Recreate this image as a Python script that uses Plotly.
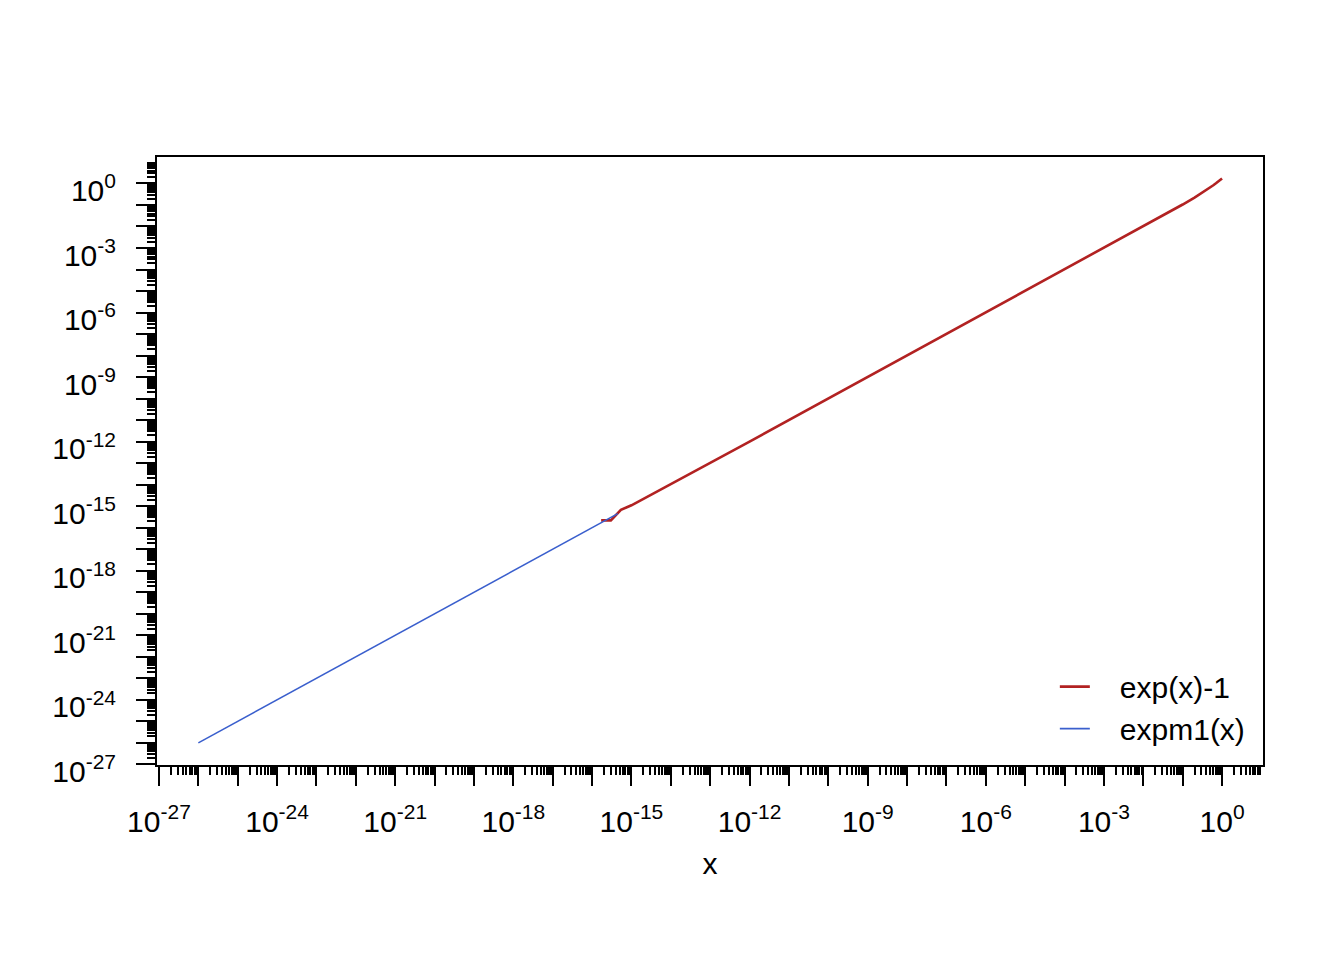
import plotly.graph_objects as go

# expm1(x) series (blue)
expm1_x = [1e-26, 1e-24, 1e-21, 1e-18, 4.5e-16]
expm1_y = [1e-26, 1e-24, 1e-21, 1e-18, 4.5e-16]

# exp(x)-1 series (red)
expx_x = [1.7e-16, 3.0e-16, 5.4e-16, 1e-15, 1e-12, 1e-9, 1e-6, 1e-3, 0.01, 0.02, 0.05,
          0.1, 0.2, 0.3, 0.4, 0.5, 0.6, 0.7, 0.8, 0.9, 1.0]
expx_y = [2.2e-16, 2.2e-16, 6.7e-16, 1.1e-15, 1e-12, 1e-9, 1e-6, 1.0005e-3, 0.01005, 0.0202, 0.0513,
          0.1052, 0.2214, 0.3499, 0.4918, 0.6487, 0.8221, 1.0138, 1.2255, 1.4596, 1.7183]

series_names = ["exp(x)-1", "expm1(x)"]

# axis tick definitions
decades = list(range(-27, 1))
major_vals = [10.0 ** k for k in decades]
major_text = [f"10<sup>{k}</sup>" if k % 3 == 0 else "" for k in decades]
minor_vals = [m * 10.0 ** k for k in decades for m in range(2, 10)]

FONT = "Liberation Sans, Arial, sans-serif"
PAD = "\u00a0\u00a0\u00a0"

fig = go.Figure()
fig.add_trace(go.Scatter(x=expx_x, y=expx_y, mode="lines", name=PAD + series_names[0],
                         line=dict(color="#B22222", width=2.6)))
fig.add_trace(go.Scatter(x=expm1_x, y=expm1_y, mode="lines", name=PAD + series_names[1],
                         line=dict(color="#3A5FCD", width=1.6)))

axis_common = dict(
    type="log", showgrid=False, zeroline=False,
    showline=True, linecolor="black", linewidth=2, mirror=True,
    ticks="outside", ticklen=19, tickwidth=2, tickcolor="black",
    tickmode="array", tickvals=major_vals, ticktext=major_text,
    tickfont=dict(family=FONT, size=30, color="black"),
    minor=dict(tickmode="array", tickvals=minor_vals, ticks="outside",
               ticklen=8, tickwidth=1.5, tickcolor="black", showgrid=False),
)

fig.update_layout(
    width=1344, height=960,
    paper_bgcolor="white", plot_bgcolor="white",
    margin=dict(l=149, r=89, t=149, b=203),
    font=dict(family=FONT, size=30, color="black"),
    xaxis=dict(axis_common, range=[-27.05, 1.04], ticklabelstandoff=10,
               title=dict(text="x", font=dict(family=FONT, size=30), standoff=16)),
    yaxis=dict(axis_common, range=[-27.03, 1.23], ticklabelstandoff=14,
               ticklabelshift=7),
    legend=dict(x=0.989, y=0.017, xanchor="right", yanchor="bottom",
                bgcolor="rgba(0,0,0,0)", borderwidth=0,
                font=dict(family=FONT, size=30)),
    showlegend=True,
)

fig.write_html("out.html")
